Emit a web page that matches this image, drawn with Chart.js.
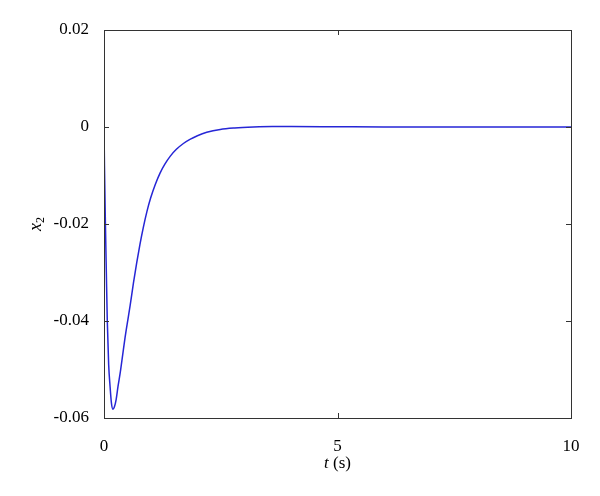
<!DOCTYPE html>
<html>
<head>
<meta charset="utf-8">
<script src="https://cdn.jsdelivr.net/npm/chart.js@4.4.1/dist/chart.umd.min.js"></script>
<style>
  html, body { margin: 0; padding: 0; background: #fff; }
  #wrap { width: 600px; height: 496px; position: relative; }
</style>
</head>
<body>
<div id="wrap"><canvas id="c"></canvas></div>
<script>
// x2 response
const timeS = [0, 0.01, 0.03, 0.05, 0.07, 0.1, 0.13, 0.16, 0.19, 0.22, 0.26, 0.3, 0.35, 0.4, 0.45, 0.51,
  0.56, 0.63, 0.7, 0.77, 0.84, 0.92, 1.0, 1.1, 1.2, 1.3, 1.42, 1.55, 1.7, 1.85, 2.0, 2.2, 2.49, 2.8, 3.2, 3.6, 4, 5, 6, 7, 8, 9, 10];
const x2 = [0, -0.008, -0.0198, -0.030, -0.0398, -0.049, -0.0535, -0.0570, -0.0582, -0.0578, -0.0562, -0.0535,
  -0.0505, -0.047, -0.0435, -0.0398, -0.0368, -0.0322, -0.0280, -0.0242, -0.0208, -0.0174, -0.0146, -0.0118,
  -0.0095, -0.0077, -0.0060, -0.0046, -0.0034, -0.0025, -0.0018, -0.0011, -0.0005, -0.0002, 0, 0.0001, 0.0001,
  0.00005, 0, 0, 0, 0, 0];
const xTicks = [0, 5, 10];
const yTicks = [0.02, 0, -0.02, -0.04, -0.06];

const FONT = '"Liberation Serif", "Times New Roman", Times, serif';

// box + inward ticks + axis titles
const frame = {
  id: 'frame',
  afterDraw(chart) {
    const { ctx, chartArea: a, scales } = chart;
    ctx.save();
    ctx.strokeStyle = '#333';
    ctx.lineWidth = 1;
    ctx.strokeRect(a.left + 0.5, a.top + 0.5, a.right - a.left, a.bottom - a.top);
    ctx.beginPath();
    xTicks.forEach(v => {
      const px = Math.round(scales.x.getPixelForValue(v)) + 0.5;
      ctx.moveTo(px, a.bottom); ctx.lineTo(px, a.bottom - 5);
      ctx.moveTo(px, a.top); ctx.lineTo(px, a.top + 5);
    });
    yTicks.forEach(v => {
      const py = Math.round(scales.y.getPixelForValue(v)) + 0.5;
      ctx.moveTo(a.left, py); ctx.lineTo(a.left + 5, py);
      ctx.moveTo(a.right, py); ctx.lineTo(a.right - 5, py);
    });
    ctx.stroke();

    ctx.fillStyle = '#000';
    ctx.textBaseline = 'middle';
    // x title: t (s)
    const cx = (a.left + a.right) / 2;
    ctx.font = 'italic 17px ' + FONT;
    const wt = ctx.measureText('t').width;
    ctx.font = '17px ' + FONT;
    const ws = ctx.measureText(' (s)').width;
    const sx = cx - (wt + ws) / 2;
    ctx.textAlign = 'left';
    ctx.font = 'italic 17px ' + FONT;
    ctx.fillText('t', sx, 464);
    ctx.font = '17px ' + FONT;
    ctx.fillText(' (s)', sx + wt, 464);

    // y title: x2 (subscript)
    ctx.translate(36, (a.top + a.bottom) / 2);
    ctx.rotate(-Math.PI / 2);
    ctx.font = 'italic 18px ' + FONT;
    const wx = ctx.measureText('x').width;
    ctx.fillText('x', -wx / 2 - 3, 0);
    ctx.font = '12px ' + FONT;
    ctx.fillText('2', wx / 2 - 3, 5);
    ctx.restore();
  }
};

new Chart(document.getElementById('c'), {
  type: 'line',
  data: {
    datasets: [{
      data: timeS.map((t, i) => ({ x: t, y: x2[i] })),
      borderColor: '#2626d6',
      borderWidth: 1.5,
      pointRadius: 0,
      cubicInterpolationMode: 'monotone',
      fill: false
    }]
  },
  options: {
    responsive: true,
    maintainAspectRatio: false,
    animation: false,
    layout: { padding: { left: 0, right: 29, top: 30, bottom: 0 } },
    plugins: { legend: { display: false }, tooltip: { enabled: false } },
    scales: {
      x: {
        type: 'linear', min: 0, max: 10,
        afterBuildTicks: s => { s.ticks = xTicks.map(v => ({ value: v })); },
        afterFit: s => { s.height = 78; },
        grid: { display: false },
        border: { display: false },
        ticks: { color: '#000', padding: 10, maxRotation: 0, font: { family: FONT, size: 17 } }
      },
      y: {
        type: 'linear', min: -0.06, max: 0.02,
        afterBuildTicks: s => { s.ticks = yTicks.map(v => ({ value: v })); },
        afterFit: s => { s.width = 104; },
        grid: { display: false },
        border: { display: false },
        ticks: {
          color: '#000', padding: 7, font: { family: FONT, size: 17 },
          callback: v => (v === 0 ? '0' : v.toFixed(2))
        }
      }
    }
  },
  plugins: [frame]
});
</script>
</body>
</html>
